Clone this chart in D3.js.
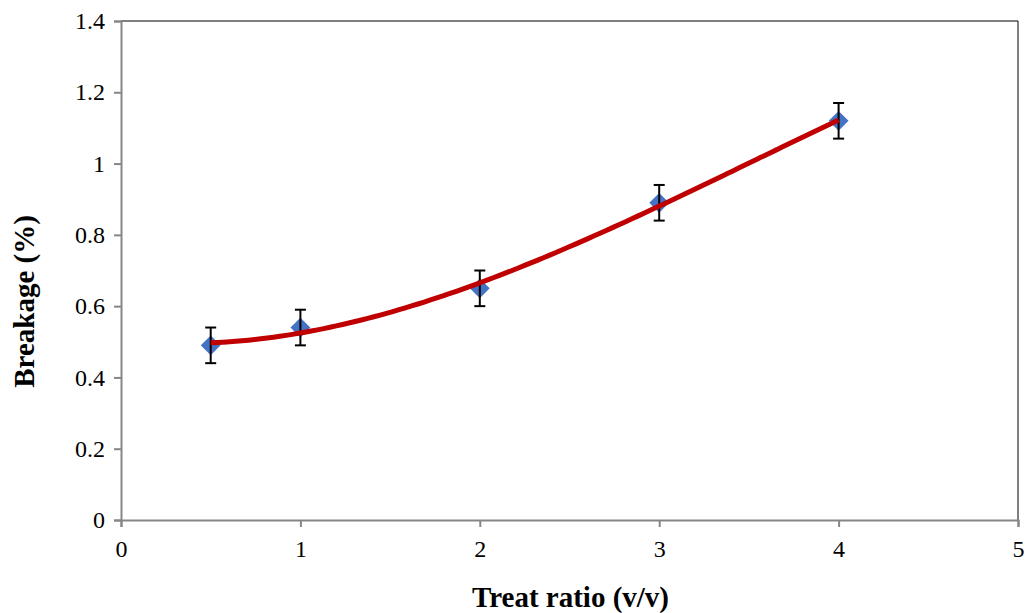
<!DOCTYPE html>
<html>
<head>
<meta charset="utf-8">
<script src="https://cdn.jsdelivr.net/npm/d3@7"></script>
<style>
  html, body { margin: 0; padding: 0; background: #fff; }
  svg { display: block; }
</style>
</head>
<body>
<svg id="chart" width="1029" height="613"></svg>
<script>
// Treat ratio vs. breakage measurements
const treatRatio = [0.5, 1, 2, 3, 4];
const breakage = [0.49, 0.54, 0.65, 0.89, 1.12];
const breakageErr = [0.05, 0.05, 0.05, 0.05, 0.05];
const xTicks = [0, 1, 2, 3, 4, 5];
const yTicks = [0, 0.2, 0.4, 0.6, 0.8, 1, 1.2, 1.4];

const svg = d3.select("#chart");
const plotLeft = 121, plotRight = 1018, plotTop = 21, plotBottom = 520;

const x = d3.scaleLinear().domain([0, 5]).range([plotLeft, plotRight]);
const y = d3.scaleLinear().domain([0, 1.4]).range([plotBottom, plotTop]);

const font = "Times New Roman, Liberation Serif, Tinos, DejaVu Serif, Noto Serif, serif";

// Plot frame: top and right edges
svg.append("line").attr("x1", plotLeft).attr("x2", plotRight).attr("y1", plotTop).attr("y2", plotTop)
  .attr("stroke", "#000").attr("stroke-width", 1);
svg.append("line").attr("x1", plotRight).attr("x2", plotRight).attr("y1", plotTop).attr("y2", plotBottom)
  .attr("stroke", "#000").attr("stroke-width", 1);

// Axes
const yAxis = d3.axisLeft(y).tickValues(yTicks).tickSize(7).tickPadding(9)
  .tickFormat(d => d3.format("~g")(d));
const xAxis = d3.axisBottom(x).tickValues(xTicks).tickSize(7).tickPadding(10)
  .tickFormat(d3.format("d"));

const gy = svg.append("g").attr("transform", `translate(${plotLeft},0)`).call(yAxis);
const gx = svg.append("g").attr("transform", `translate(0,${plotBottom})`).call(xAxis);

[gx, gy].forEach(g => {
  g.attr("font-family", font).attr("font-size", 24);
  g.select(".domain").attr("stroke", "#868686").attr("stroke-width", 2);
  g.selectAll(".tick line").attr("stroke", "#868686").attr("stroke-width", 2);
  g.selectAll(".tick text").attr("fill", "#000");
});
gx.selectAll(".tick text").attr("dy", "0.85em");

// Cubic least-squares trend line
function polyFit(xs, ys, order) {
  const n = order + 1;
  const S = k => d3.sum(xs, v => Math.pow(v, k));
  const T = k => d3.sum(xs, (v, i) => Math.pow(v, k) * ys[i]);
  const M = d3.range(n).map(r => d3.range(n).map(c => S(r + c)).concat([T(r)]));
  for (let i = 0; i < n; i++) {
    for (let j = i + 1; j < n; j++) {
      const f = M[j][i] / M[i][i];
      for (let k = i; k <= n; k++) M[j][k] -= f * M[i][k];
    }
  }
  const c = new Array(n).fill(0);
  for (let i = n - 1; i >= 0; i--) {
    let s = M[i][n];
    for (let k = i + 1; k < n; k++) s -= M[i][k] * c[k];
    c[i] = s / M[i][i];
  }
  return c;
}
const coef = polyFit(treatRatio, breakage, 3);
const evalPoly = xv => coef.reduce((acc, c, k) => acc + c * Math.pow(xv, k), 0);
const xMin = d3.min(treatRatio), xMax = d3.max(treatRatio);
const trend = d3.range(0, 101).map(i => {
  const xv = xMin + (xMax - xMin) * i / 100;
  return [xv, evalPoly(xv)];
});

const data = treatRatio.map((d, i) => ({ x: d, y: breakage[i], e: breakageErr[i] }));

// Markers
const diamond = d3.symbol().type(d3.symbolDiamond2).size(250);
svg.append("g").selectAll("path").data(data).join("path")
  .attr("d", diamond)
  .attr("transform", d => `translate(${x(d.x)},${y(d.y)})`)
  .attr("fill", "#4472C4");

// Error bars
const eb = svg.append("g").attr("stroke", "#000").attr("stroke-width", 2);
data.forEach(d => {
  eb.append("line").attr("x1", x(d.x)).attr("x2", x(d.x))
    .attr("y1", y(d.y + d.e)).attr("y2", y(d.y - d.e));
  [d.y + d.e, d.y - d.e].forEach(v => {
    eb.append("line").attr("x1", x(d.x) - 5.5).attr("x2", x(d.x) + 5.5)
      .attr("y1", y(v)).attr("y2", y(v));
  });
});

// Trend curve
svg.append("path").datum(trend)
  .attr("d", d3.line().x(d => x(d[0])).y(d => y(d[1])).curve(d3.curveBasis))
  .attr("fill", "none").attr("stroke", "#C00000").attr("stroke-width", 5)
  .attr("stroke-linecap", "butt");

// Axis titles
svg.append("text").attr("x", (plotLeft + plotRight) / 2 + 1).attr("y", 607)
  .attr("text-anchor", "middle").attr("font-family", font)
  .attr("font-weight", "bold").attr("font-size", 29).text("Treat ratio (v/v)");
svg.append("text").attr("transform", `translate(34,${(plotTop + plotBottom) / 2 + 31}) rotate(-90)`)
  .attr("text-anchor", "middle").attr("font-family", font)
  .attr("font-weight", "bold").attr("font-size", 29).text("Breakage (%)");
</script>
</body>
</html>
